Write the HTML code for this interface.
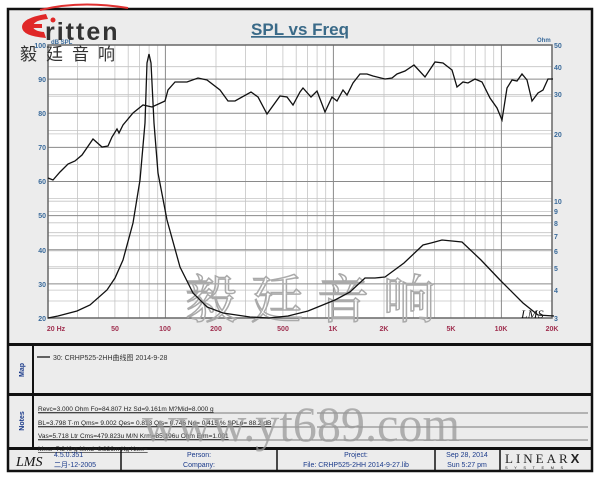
<!DOCTYPE html>
<html><head><meta charset="utf-8"><style>
html,body{margin:0;padding:0;background:#fff;}
body{width:600px;height:480px;overflow:hidden;position:relative;font-family:"Liberation Sans","Noto Sans CJK SC",sans-serif;}
</style></head><body>
<svg width="600" height="480" viewBox="0 0 600 480" xmlns="http://www.w3.org/2000/svg" font-family="Liberation Sans, Noto Sans CJK SC, sans-serif">
<rect x="0" y="0" width="600" height="480" fill="#fff"/>
<rect x="8" y="9" width="584" height="462" fill="#ececec" stroke="#111" stroke-width="2.5"/>
<rect x="8" y="343" width="584" height="3" fill="#111"/>
<rect x="8" y="393" width="584" height="3" fill="#111"/>
<rect x="8" y="447" width="584" height="3" fill="#111"/>
<line x1="33" y1="346" x2="33" y2="447" stroke="#111" stroke-width="2"/>
<rect x="48" y="45" width="504" height="273" fill="#fff"/>
<g stroke="#c4c4c4" stroke-width="0.8">
<line x1="77.6" y1="45" x2="77.6" y2="318"/><line x1="98.6" y1="45" x2="98.6" y2="318"/><line x1="114.9" y1="45" x2="114.9" y2="318"/><line x1="128.2" y1="45" x2="128.2" y2="318"/><line x1="139.4" y1="45" x2="139.4" y2="318"/><line x1="149.1" y1="45" x2="149.1" y2="318"/><line x1="157.7" y1="45" x2="157.7" y2="318"/>
<line x1="216" y1="45" x2="216" y2="318"/><line x1="245.6" y1="45" x2="245.6" y2="318"/><line x1="266.6" y1="45" x2="266.6" y2="318"/><line x1="282.9" y1="45" x2="282.9" y2="318"/><line x1="296.2" y1="45" x2="296.2" y2="318"/><line x1="307.4" y1="45" x2="307.4" y2="318"/><line x1="317.1" y1="45" x2="317.1" y2="318"/><line x1="325.7" y1="45" x2="325.7" y2="318"/>
<line x1="384" y1="45" x2="384" y2="318"/><line x1="413.6" y1="45" x2="413.6" y2="318"/><line x1="434.6" y1="45" x2="434.6" y2="318"/><line x1="450.9" y1="45" x2="450.9" y2="318"/><line x1="464.2" y1="45" x2="464.2" y2="318"/><line x1="475.4" y1="45" x2="475.4" y2="318"/><line x1="485.1" y1="45" x2="485.1" y2="318"/><line x1="493.7" y1="45" x2="493.7" y2="318"/>
<line x1="48" y1="66.7" x2="552" y2="66.7"/><line x1="48" y1="94.6" x2="552" y2="94.6"/><line x1="48" y1="133.9" x2="552" y2="133.9"/><line x1="48" y1="201.2" x2="552" y2="201.2"/><line x1="48" y1="211.4" x2="552" y2="211.4"/><line x1="48" y1="222.8" x2="552" y2="222.8"/><line x1="48" y1="235.8" x2="552" y2="235.8"/><line x1="48" y1="250.8" x2="552" y2="250.8"/><line x1="48" y1="268.5" x2="552" y2="268.5"/><line x1="48" y1="290.1" x2="552" y2="290.1"/>
<line x1="48" y1="96.2" x2="552" y2="96.2"/><line x1="48" y1="130.4" x2="552" y2="130.4"/><line x1="48" y1="164.4" x2="552" y2="164.4"/><line x1="48" y1="198.5" x2="552" y2="198.5"/><line x1="48" y1="232.7" x2="552" y2="232.7"/><line x1="48" y1="266.8" x2="552" y2="266.8"/><line x1="48" y1="301" x2="552" y2="301"/>
</g>
<g stroke="#8a8a8a" stroke-width="1">
<line x1="165.4" y1="45" x2="165.4" y2="318"/><line x1="333.4" y1="45" x2="333.4" y2="318"/><line x1="501.4" y1="45" x2="501.4" y2="318"/>
<line x1="48" y1="79.1" x2="552" y2="79.1"/><line x1="48" y1="113.3" x2="552" y2="113.3"/><line x1="48" y1="147.4" x2="552" y2="147.4"/><line x1="48" y1="181.5" x2="552" y2="181.5"/><line x1="48" y1="215.6" x2="552" y2="215.6"/><line x1="48" y1="249.8" x2="552" y2="249.8"/><line x1="48" y1="283.9" x2="552" y2="283.9"/>
</g>
<rect x="48" y="45" width="504" height="273" fill="none" stroke="#666" stroke-width="1.5"/>
<text x="185" y="318" font-size="52" fill="none" stroke="#aaa" stroke-width="1.5" font-family="Noto Serif CJK SC, serif" letter-spacing="14">毅廷音响</text>
<polyline fill="none" stroke="#111" stroke-width="1.3" points="48,178 53,180 60,172 68,164 75,161 82,155 93,139 102,147 108,146 112,137 117,129 119,133 123,125 133,113 143,105 152,107 165,101 168,90 175,82 187,82 198,78 207,80 220,90 228,101 235,101 251,92 258,97 267,114 280,96 287,97 293,105 300,92 303,88 311,97 317,91 325,112 332,97 337,101 343,90 347,95 353,83 360,74 367,74 373,76 385,79 392,78 397,74 405,71 414,65 425,77 435,62 443,63 452,70 457,87 463,82 468,83 475,79 482,82 490,98 497,108 502,120 507,88 512,80 517,81 522,74 527,80 532,101 538,93 543,90 548,79 553,79"/>
<polyline fill="none" stroke="#111" stroke-width="1.3" points="48,318 58,316 77,311 90,305 107,290 115,278 123,260 133,223 140,180 145,123 147,63 149,54 151,63 154,123 158,173 167,220 180,267 193,293 207,307 223,313 250,317 269,318 288,316 308,311 335,300 350,292 365,278 375,278 385,277 404,263 423,245 431,243 442,240 462,242 481,260 500,280 523,303 538,315 554,316"/>
<text x="521" y="318" font-size="12" font-style="italic" fill="#111" font-family="Liberation Serif, serif">LMS</text>
<g font-size="7" fill="#3a6a9a" font-weight="bold">
<text x="46" y="48" text-anchor="end">100</text><text x="46" y="82" text-anchor="end">90</text><text x="46" y="116" text-anchor="end">80</text><text x="46" y="150" text-anchor="end">70</text><text x="46" y="184" text-anchor="end">60</text><text x="46" y="218" text-anchor="end">50</text><text x="46" y="253" text-anchor="end">40</text><text x="46" y="287" text-anchor="end">30</text><text x="46" y="321" text-anchor="end">20</text>
<text x="51" y="44" font-size="6">dB SPL</text>
<text x="537" y="42" font-size="6">Ohm</text>
<text x="554" y="48">50</text><text x="554" y="70">40</text><text x="554" y="97">30</text><text x="554" y="137">20</text><text x="554" y="204">10</text><text x="554" y="214">9</text><text x="554" y="226">8</text><text x="554" y="239">7</text><text x="554" y="254">6</text><text x="554" y="271">5</text><text x="554" y="293">4</text><text x="554" y="321">3</text>
</g>
<g font-size="7" fill="#a03050" font-weight="bold" text-anchor="middle">
<text x="56" y="331">20  Hz</text><text x="115" y="331">50</text><text x="165" y="331">100</text><text x="216" y="331">200</text><text x="283" y="331">500</text><text x="333" y="331">1K</text><text x="384" y="331">2K</text><text x="451" y="331">5K</text><text x="501" y="331">10K</text><text x="552" y="331">20K</text>
</g>
<text x="300" y="35" font-size="17" font-weight="bold" fill="#3a6a88" text-anchor="middle" text-decoration="underline">SPL vs Freq</text>
<path d="M40,10 Q80,0 128,8" stroke="#e03030" stroke-width="2" fill="none"/>
<path d="M46,14 Q22,18 22,27 Q22,36 46,38 L44,32 Q33,31 33,26 Q34,20 48,19 Z" fill="#e02828"/>
<rect x="30" y="24" width="12" height="4" fill="#e02828"/>
<text x="45" y="40" font-size="25" font-weight="bold" fill="#333" letter-spacing="2">ritten</text>
<circle cx="53" cy="20" r="2.5" fill="#e02828"/>
<text x="20" y="60" font-size="17" fill="#333" letter-spacing="9" font-family="Noto Sans CJK SC, sans-serif">毅廷音响</text>
<text transform="translate(24,370) rotate(-90)" font-size="7" font-weight="bold" fill="#1a3a8a" text-anchor="middle">Map</text>
<line x1="37" y1="357" x2="50" y2="357" stroke="#333" stroke-width="1.5"/>
<text x="53" y="360" font-size="7" fill="#333">30: CRHP525-2HH曲线图      2014-9-28</text>
<text transform="translate(24,421) rotate(-90)" font-size="7" font-weight="bold" fill="#1a3a8a" text-anchor="middle">Notes</text>
<g font-size="6.5" fill="#222" text-decoration="underline">
<text x="38" y="411">Revc=3.000 Ohm  Fo=84.807 Hz  Sd=9.161m M?Mid=8.000 g</text>
<text x="38" y="425">BL=3.798 T·m  Qms= 9.002  Qes= 0.813  Qts= 0.746  No= 0.415 %  SPLo= 88.2 dB</text>
<text x="38" y="438">Vas=5.718 Ltr  Cms=479.823u M/N  Krm=85.196u Ohm  Erm=1.001</text>
<text x="38" y="451">Mms=7.340 g  Mmd=6.836m Kg  Kxm=</text>
</g>
<g stroke="#555" stroke-width="0.8">
<line x1="38" y1="413" x2="311" y2="413"/><line x1="317" y1="413" x2="588" y2="413"/>
<line x1="38" y1="427" x2="311" y2="427"/><line x1="317" y1="427" x2="588" y2="427"/>
<line x1="38" y1="440" x2="588" y2="440"/>
</g>
<g stroke="#111" stroke-width="1.5">
<line x1="121" y1="450" x2="121" y2="471"/><line x1="277" y1="450" x2="277" y2="471"/><line x1="435" y1="450" x2="435" y2="471"/><line x1="500" y1="450" x2="500" y2="471"/>
</g>
<text x="16" y="466" font-size="14" font-style="italic" fill="#111" font-family="Liberation Serif, serif">LMS</text>
<g font-size="7" fill="#1a3a8a">
<text x="54" y="457">4.5.0.351</text><text x="54" y="467">二月-12-2005</text>
<text x="199" y="457" text-anchor="middle">Person:</text><text x="199" y="467" text-anchor="middle">Company:</text>
<text x="356" y="457" text-anchor="middle">Project:</text><text x="356" y="467" text-anchor="middle">File: CRHP525-2HH   2014-9-27.lib</text>
<text x="467" y="457" text-anchor="middle">Sep 28, 2014</text><text x="467" y="467" text-anchor="middle">Sun  5:27 pm</text>
</g>
<text x="505" y="463" font-size="13" fill="#222" letter-spacing="3" font-family="Liberation Serif, serif">LINEAR<tspan font-weight="bold" font-family="Liberation Sans, sans-serif">X</tspan></text>
<text x="505" y="469" font-size="4" fill="#222" letter-spacing="6.5">SYSTEMS</text>
<text x="142" y="441" font-size="50" fill="#999" fill-opacity="0.75" font-family="Liberation Serif, serif" textLength="318" lengthAdjust="spacingAndGlyphs">www.yt689.com</text>
</svg>
</body></html>
